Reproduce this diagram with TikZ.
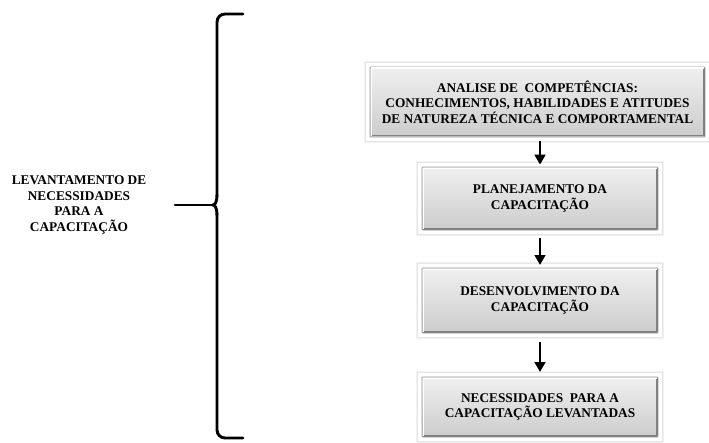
\documentclass[tikz,border=0pt]{standalone}
\usepackage{fontspec}
\setmainfont{Liberation Serif}
\usetikzlibrary{arrows.meta}
\begin{document}
\begin{tikzpicture}[x=0.75pt,y=-0.75pt,
  lbl/.style={font=\fontsize{10}{11.6}\selectfont\bfseries, align=center, inner sep=0pt},
  stagebox/.style={lbl, minimum width=#1, rounded corners=0.5pt,
    top color=black!6, bottom color=black!20, draw=black!40, line width=0.5pt},
  flow/.style={line width=2.2pt, -{Triangle[width=8pt,length=7.5pt]}},
  brace/.style={line width=2.2pt, line cap=round}]
\useasboundingbox (0,0) rectangle (709,442);
\fill[white] (0,0) rectangle (709,442);

% stage boxes
\node[stagebox=335pt*0.75, minimum height=70pt*0.75] (s1) at (537.5,102)
  {ANALISE DE \ COMPETÊNCIAS:\\CONHECIMENTOS, HABILIDADES E ATITUDES\\DE NATUREZA TÉCNICA E COMPORTAMENTAL};
\node[stagebox=236pt*0.75, minimum height=63pt*0.75] (s2) at (540,198.5)
  {PLANEJAMENTO DA\\CAPACITAÇÃO};
\node[stagebox=236pt*0.75, minimum height=65pt*0.75] (s3) at (540,300.5)
  {DESENVOLVIMENTO DA\\CAPACITAÇÃO};
\node[stagebox=236pt*0.75, minimum height=60pt*0.75] (s4) at (540,407)
  {NECESSIDADES \ PARA A\\CAPACITAÇÃO LEVANTADAS};

% bevelled frames: soft shadow, white border, darker lower-right edge
\foreach \n in {s1,s2,s3,s4}{
  \begin{pgfinterruptboundingbox}
  \draw[black!5, line width=1.5pt] ([shift={(-5,-5)}]\n.north west) rectangle ([shift={(5,5)}]\n.south east);
  \draw[black!10, line width=1pt] ([shift={(-4,-4)}]\n.north west) rectangle ([shift={(4,4)}]\n.south east);
  \draw[white, line width=2.2pt] ([shift={(-2,-2)}]\n.north west) rectangle ([shift={(2,2)}]\n.south east);
  \draw[black!50, line width=1pt] ([shift={(-1.5,-1.5)}]\n.south east) -- ([shift={(1.5,-1.5)}]\n.south west);
  \draw[black!50, line width=1pt] ([shift={(-1.5,-1.5)}]\n.south east) -- ([shift={(-1.5,1.5)}]\n.north east);
  \draw[white, line width=1pt] ([shift={(1.5,1.5)}]\n.north west) -- ([shift={(-1.5,1.5)}]\n.north east);
  \draw[white, line width=1pt] ([shift={(1.5,1.5)}]\n.north west) -- ([shift={(1.5,-1.5)}]\n.south west);
  \end{pgfinterruptboundingbox}
}

% arrows between stages
\draw[flow, shorten <=3pt, shorten >=1.5pt] (s1.south -| s2.north) -- (s2.north);
\draw[flow, shorten <=6pt, shorten >=2pt] (s2.south) -- (s3.north);
\draw[flow, shorten <=6.5pt, shorten >=3.5pt] (s3.south) -- (s4.north);

% left label
\node[lbl, font=\fontsize{10}{11.9}\selectfont\bfseries] (lv) at (79,205)
  {LEVANTAMENTO DE\\NECESSIDADES\\PARA A\\CAPACITAÇÃO};

% curly brace
\coordinate (bt) at (243,14);
\coordinate (bb) at (243,438);
\coordinate (cusp) at (213,205);
\coordinate (stub) at (175,205);
\draw[brace, rounded corners=6] (bt) -- (217,14) -- (217,196);
\draw[brace] (217,195) .. controls (217,202) and (215,205) .. (cusp)
  .. controls (215,205) and (217,208) .. (217,215);
\draw[brace, rounded corners=6] (217,214) -- (217,438) -- (bb);
\draw[brace] (stub) -- (cusp);
\end{tikzpicture}
\end{document}
